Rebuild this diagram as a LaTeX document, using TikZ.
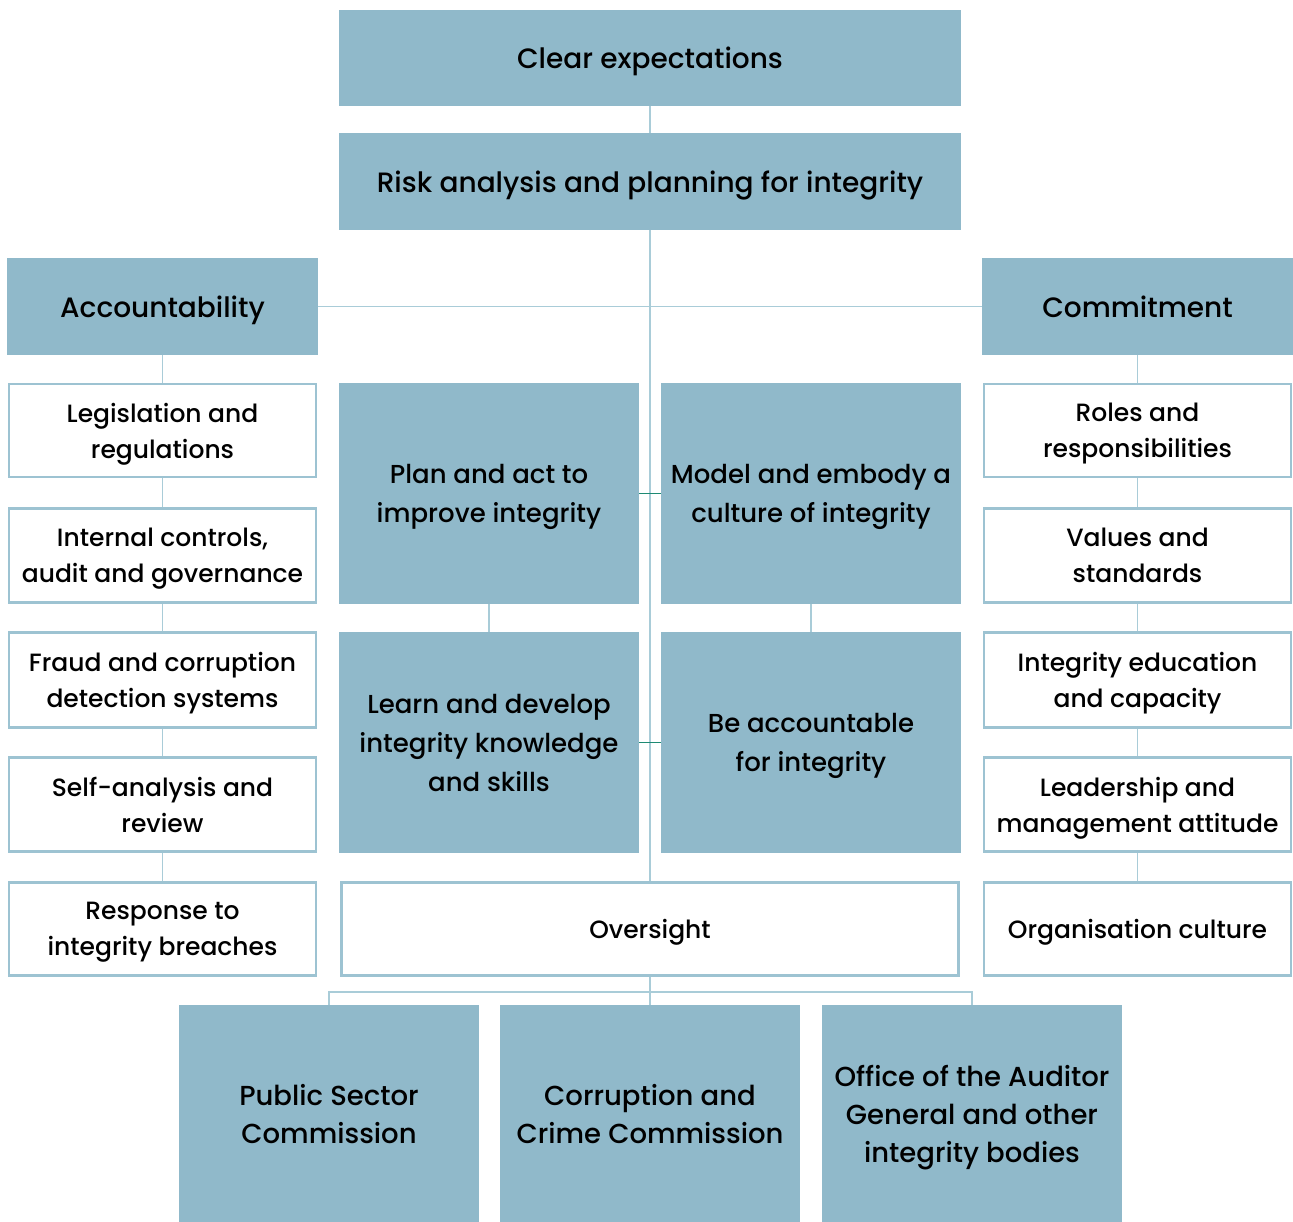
\documentclass[tikz,border=0pt]{standalone}
\usepackage{fontspec}
\setmainfont{Poppins Medium}
\usetikzlibrary{calc}
\definecolor{boxblue}{HTML}{90B9CA}
\definecolor{edgeblue}{HTML}{9DC3D2}
\definecolor{linkblue}{HTML}{A9CCD8}
\definecolor{linkteal}{HTML}{1E8A73}
\tikzset{
  box/.style={fill=boxblue, draw=none, align=center, inner sep=0pt, text depth=-2pt,
    font=\fontsize{28}{39}\selectfont},
  wbox/.style={fill=white, draw=edgeblue, line width=2.5pt, align=center, inner sep=0pt,
    text depth=-11pt, font=\fontsize{25}{36}\selectfont},
  midbox/.style={box, minimum width=300pt, minimum height=221pt, font=\fontsize{26}{39}\selectfont},
  lowbox/.style={box, minimum width=300pt, minimum height=217pt, text depth=-13pt,
    font=\fontsize{27.5}{38}\selectfont},
  link/.style={draw=linkblue, line width=1.5pt},
}
\begin{document}
\begin{tikzpicture}[x=1pt, y=-1pt]
		%%%%% FRAME %%%%%
		\useasboundingbox (0,0) rectangle (1293,1222);
		
		%%%%% TOP %%%%%
		\node[box, minimum width=622pt, minimum height=96pt] (clear) at (650,58) {Clear expectations};
		\node[box, minimum width=622pt, minimum height=97pt] (risk) at (650,181.5) {Risk analysis and planning for integrity};
		\node[box, minimum width=311pt, minimum height=97pt] (acc) at (162.5,306.5) {Accountability};
		\node[box, minimum width=311pt, minimum height=97pt] (com) at (1137.5,306.5) {Commitment};
		
		%%%%% LEFT COLUMN %%%%%
		\node[wbox, minimum width=307pt, minimum height=93pt] (leg) at (162.5,430.5) {Legislation and\\regulations};
		\node[wbox, minimum width=307pt, minimum height=94pt] (ctl) at (162.5,555.5) {Internal controls,\\audit and governance};
		\node[wbox, minimum width=307pt, minimum height=95pt] (fraud) at (162.5,680) {Fraud and corruption\\detection systems};
		\node[wbox, minimum width=307pt, minimum height=94pt] (self) at (162.5,804.5) {Self-analysis and\\review};
		\node[wbox, minimum width=307pt, minimum height=93pt] (resp) at (162.5,929) {Response to\\integrity breaches};
		
		%%%%% RIGHT COLUMN %%%%%
		\node[wbox, minimum width=307pt, minimum height=93pt] (roles) at (1137.5,430.5) {Roles and\\responsibilities};
		\node[wbox, minimum width=307pt, minimum height=94pt] (vals) at (1137.5,555.5) {Values and\\standards};
		\node[wbox, minimum width=307pt, minimum height=95pt] (edu) at (1137.5,680) {Integrity education\\and capacity};
		\node[wbox, minimum width=307pt, minimum height=94pt] (lead) at (1137.5,804.5) {Leadership and\\management attitude};
		\node[wbox, minimum width=307pt, minimum height=93pt] (cult) at (1137.5,929) {Organisation culture};
		
		%%%%% MIDDLE %%%%%
		\node[midbox] (plan) at (489,493.5) {Plan and act to\\improve integrity};
		\node[midbox] (model) at (811,493.5) {Model and embody a\\culture of integrity};
		\node[midbox] (learn) at (489,742.5) {Learn and develop\\integrity knowledge\\and skills};
		\node[midbox] (acct) at (811,742.5) {Be accountable\\for integrity};
		
		\node[wbox, minimum width=617pt, minimum height=93pt] (over) at (650,929) {Oversight};
		
		%%%%% BOTTOM %%%%%
		\coordinate (bar) at (650,992);
		\node[lowbox] (psc) at (329,1113.5) {Public Sector\\Commission};
		\node[lowbox] (ccc) at (650,1113.5) {Corruption and\\Crime Commission};
		\node[lowbox] (oag) at (972,1113.5) {Office of the Auditor\\General and other\\integrity bodies};
		
		%%%%% LINKS %%%%%
		\draw[link] (clear.south) -- (risk.north);
		\draw[link] (risk.south) -- (over.north);
		\draw[link] (acc.east) -- (com.west);
		\draw[link] (acc.south) -- (leg.north);
		\draw[link] (leg.south) -- (ctl.north);
		\draw[link] (ctl.south) -- (fraud.north);
		\draw[link] (fraud.south) -- (self.north);
		\draw[link] (self.south) -- (resp.north);
		\draw[link] (com.south) -- (roles.north);
		\draw[link] (roles.south) -- (vals.north);
		\draw[link] (vals.south) -- (edu.north);
		\draw[link] (edu.south) -- (lead.north);
		\draw[link] (lead.south) -- (cult.north);
		\draw[link] (plan.south) -- (learn.north);
		\draw[link] (model.south) -- (acct.north);
		\draw[linkteal, line width=1.5pt] (plan.east) -- (model.west);
		\draw[linkteal, line width=1.5pt] (learn.east) -- (acct.west);
		\draw[link] (over.south) -- (ccc.north);
		\draw[link] (psc.north) |- (bar) -| (oag.north);
		
		%%%%% END %%%%%
	\end{tikzpicture}
\end{document}
